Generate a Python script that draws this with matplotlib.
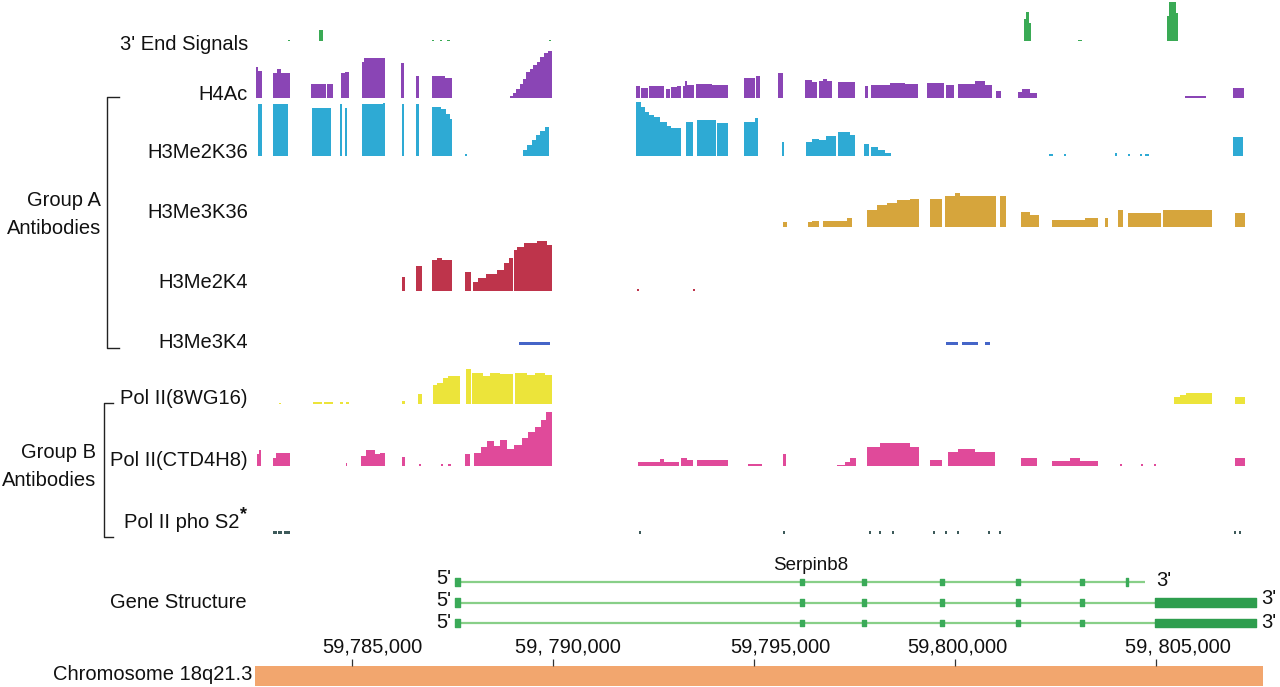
import matplotlib
matplotlib.use("Agg")
import matplotlib.pyplot as plt
from matplotlib.lines import Line2D
from matplotlib.transforms import ScaledTranslation

plt.rcParams['font.family'] = ['Liberation Sans', 'DejaVu Sans']

# ---------------- data (positions in kb on chr18, values = signal height) -------------
END3 = [
    (59784.19, 59784.29, 11),
    (59801.71, 59801.76, 22), (59801.76, 59801.83, 29), (59801.83, 59801.88, 18),
    (59805.26, 59805.31, 25), (59805.31, 59805.48, 39), (59805.48, 59805.54, 28),
    (59783.42, 59783.47, 1.5), (59787.00, 59787.05, 1.5), (59787.20, 59787.25, 1.5),
    (59787.37, 59787.44, 1.5), (59789.91, 59789.96, 1.5), (59803.05, 59803.15, 1.5),
]

H4AC = [
    (59782.62, 59782.67, 31), (59782.67, 59782.77, 27),
    (59783.05, 59783.15, 25), (59783.15, 59783.25, 29), (59783.25, 59783.47, 25),
    (59783.99, 59784.36, 14), (59784.39, 59784.54, 14),
    (59784.74, 59784.84, 25), (59784.84, 59784.94, 26),
    (59785.26, 59785.31, 36), (59785.31, 59785.83, 40),
    (59786.23, 59786.30, 35),
    (59786.60, 59786.68, 22),
    (59787.00, 59787.32, 22), (59787.32, 59787.49, 20),
    (59788.94, 59789.01, 2), (59789.01, 59789.09, 5), (59789.09, 59789.19, 9),
    (59789.19, 59789.26, 14), (59789.26, 59789.33, 19), (59789.33, 59789.43, 26),
    (59789.43, 59789.51, 29), (59789.51, 59789.61, 33), (59789.61, 59789.68, 36),
    (59789.68, 59789.78, 41), (59789.78, 59789.88, 45), (59789.88, 59789.98, 47),
    (59792.07, 59792.17, 12), (59792.19, 59792.37, 10), (59792.39, 59792.76, 12),
    (59792.81, 59792.91, 9), (59792.94, 59793.08, 11), (59793.08, 59793.19, 12),
    (59793.24, 59793.29, 12), (59793.29, 59793.34, 17), (59793.34, 59793.51, 13),
    (59793.56, 59793.96, 14), (59793.96, 59794.35, 13),
    (59794.75, 59795.02, 20), (59795.04, 59795.15, 22),
    (59795.60, 59795.72, 25),
    (59796.27, 59796.44, 18), (59796.44, 59796.57, 16),
    (59796.62, 59796.71, 17), (59796.71, 59796.82, 19), (59796.82, 59796.94, 17),
    (59797.09, 59797.51, 16),
    (59797.76, 59797.83, 12),
    (59797.91, 59798.38, 13), (59798.38, 59798.75, 15), (59798.75, 59799.08, 14),
    (59799.30, 59799.72, 15),
    (59799.77, 59799.97, 13),
    (59800.07, 59800.49, 14), (59800.49, 59800.74, 17), (59800.74, 59800.91, 13),
    (59801.01, 59801.14, 7),
    (59801.56, 59801.66, 6), (59801.66, 59801.86, 9), (59801.86, 59802.03, 5),
    (59805.71, 59806.23, 2),
    (59806.90, 59807.18, 10),
]

H3ME2K36 = [
    (59782.67, 59782.77, 52),
    (59783.05, 59783.42, 52),
    (59784.01, 59784.49, 48),
    (59784.71, 59784.76, 52),
    (59784.84, 59784.89, 48),
    (59785.26, 59785.78, 52), (59785.78, 59785.83, 53),
    (59786.25, 59786.30, 52),
    (59786.60, 59786.68, 52),
    (59787.00, 59787.22, 49), (59787.22, 59787.35, 47), (59787.35, 59787.44, 42), (59787.44, 59787.49, 37),
    (59787.82, 59787.87, 2),
    (59789.26, 59789.36, 6), (59789.36, 59789.48, 11), (59789.48, 59789.58, 16),
    (59789.58, 59789.68, 21), (59789.68, 59789.81, 25), (59789.81, 59789.91, 29),
    (59792.07, 59792.19, 54), (59792.19, 59792.29, 49), (59792.29, 59792.39, 44),
    (59792.39, 59792.51, 41), (59792.51, 59792.66, 39), (59792.66, 59792.84, 34),
    (59792.84, 59792.93, 30), (59792.93, 59793.19, 28),
    (59793.31, 59793.48, 34),
    (59793.58, 59794.06, 36),
    (59794.08, 59794.35, 33),
    (59794.75, 59795.02, 34), (59795.02, 59795.10, 38),
    (59795.70, 59795.75, 14),
    (59796.29, 59796.44, 14), (59796.44, 59796.62, 17), (59796.62, 59796.79, 16), (59796.79, 59797.04, 20),
    (59797.09, 59797.39, 24), (59797.39, 59797.51, 21),
    (59797.73, 59797.86, 12),
    (59797.91, 59798.08, 9), (59798.08, 59798.26, 6), (59798.26, 59798.40, 3),
    (59802.33, 59802.43, 2), (59802.70, 59802.75, 2), (59803.97, 59804.02, 3),
    (59804.29, 59804.34, 2), (59804.59, 59804.64, 2), (59804.72, 59804.82, 2),
    (59806.90, 59807.16, 19),
]

H3ME3K36 = [
    (59795.72, 59795.82, 5),
    (59796.34, 59796.44, 5), (59796.44, 59796.62, 6),
    (59796.71, 59797.31, 6), (59797.31, 59797.44, 9),
    (59797.81, 59798.06, 17), (59798.06, 59798.31, 22), (59798.31, 59798.55, 24),
    (59798.55, 59798.88, 27), (59798.88, 59799.10, 28),
    (59799.37, 59799.67, 28),
    (59799.75, 59799.99, 31), (59799.99, 59800.12, 34), (59800.12, 59801.01, 31),
    (59801.11, 59801.26, 31),
    (59801.64, 59801.86, 15), (59801.86, 59802.08, 12),
    (59802.41, 59803.22, 7), (59803.22, 59803.55, 9),
    (59803.72, 59803.80, 9),
    (59804.05, 59804.17, 17),
    (59804.29, 59805.11, 14),
    (59805.16, 59806.38, 17),
    (59806.95, 59807.20, 14),
]

H3ME2K4 = [
    (59786.25, 59786.32, 14),
    (59786.60, 59786.75, 25),
    (59787.00, 59787.12, 31), (59787.12, 59787.25, 33), (59787.25, 59787.49, 31),
    (59787.82, 59787.97, 19),
    (59788.02, 59788.14, 9), (59788.14, 59788.34, 13), (59788.34, 59788.61, 17),
    (59788.61, 59788.79, 21), (59788.79, 59788.91, 28), (59788.91, 59789.01, 33),
    (59789.04, 59789.11, 41), (59789.11, 59789.28, 44), (59789.28, 59789.61, 48),
    (59789.61, 59789.86, 50), (59789.86, 59789.98, 46),
    (59792.09, 59792.14, 2), (59793.48, 59793.53, 2),
]

H3ME3K4 = [
    (59789.16, 59789.93, 3),
    (59799.77, 59800.07, 3), (59800.17, 59800.57, 3), (59800.74, 59800.86, 3),
]

POL_8WG16 = [
    (59783.20, 59783.25, 1.5), (59784.04, 59784.27, 2), (59784.31, 59784.54, 2),
    (59784.71, 59784.79, 2), (59784.86, 59784.94, 2),
    (59786.25, 59786.32, 3),
    (59786.65, 59786.75, 10),
    (59787.02, 59787.12, 19), (59787.12, 59787.27, 21), (59787.27, 59787.40, 26), (59787.40, 59787.69, 28),
    (59787.84, 59787.97, 35),
    (59787.99, 59788.27, 31), (59788.27, 59788.44, 28), (59788.44, 59788.69, 31),
    (59788.69, 59789.01, 30), (59789.06, 59789.36, 31), (59789.36, 59789.56, 29),
    (59789.56, 59789.81, 31), (59789.81, 59789.98, 29),
    (59805.44, 59805.59, 7), (59805.59, 59805.74, 9), (59805.74, 59806.38, 11),
    (59806.95, 59807.20, 7),
]

POL_CTD4H8 = [
    (59782.65, 59782.70, 12), (59782.70, 59782.75, 16),
    (59783.05, 59783.12, 8), (59783.12, 59783.47, 13),
    (59784.86, 59784.89, 3),
    (59785.23, 59785.36, 10), (59785.36, 59785.58, 16), (59785.58, 59785.71, 12), (59785.71, 59785.83, 13),
    (59786.25, 59786.32, 9),
    (59786.68, 59786.73, 2), (59787.22, 59787.27, 2), (59787.40, 59787.47, 2),
    (59787.82, 59787.94, 12),
    (59788.04, 59788.22, 13), (59788.22, 59788.37, 19), (59788.37, 59788.54, 25),
    (59788.54, 59788.69, 20), (59788.69, 59788.86, 26), (59788.86, 59789.04, 17),
    (59789.04, 59789.23, 21), (59789.23, 59789.38, 28), (59789.38, 59789.56, 34),
    (59789.56, 59789.71, 39), (59789.71, 59789.83, 46), (59789.83, 59789.98, 54),
    (59792.12, 59792.66, 4), (59792.66, 59792.76, 7), (59792.76, 59793.14, 4),
    (59793.19, 59793.34, 8), (59793.34, 59793.48, 6),
    (59793.58, 59794.35, 6),
    (59794.85, 59795.20, 2),
    (59795.72, 59795.80, 12),
    (59797.06, 59797.26, 1.5), (59797.26, 59797.39, 4), (59797.39, 59797.54, 8),
    (59797.81, 59798.13, 19), (59798.13, 59798.88, 23), (59798.88, 59799.10, 19),
    (59799.37, 59799.67, 6),
    (59799.82, 59800.07, 14), (59800.07, 59800.49, 17), (59800.49, 59800.99, 14),
    (59801.64, 59802.03, 8),
    (59802.41, 59802.85, 5), (59802.85, 59803.10, 8), (59803.10, 59803.55, 5),
    (59804.10, 59804.14, 2), (59804.62, 59804.66, 2), (59804.94, 59804.98, 2),
    (59806.95, 59807.20, 8),
]

POL_PHOS2 = [
    (59783.05, 59783.15, 3), (59783.18, 59783.28, 3), (59783.31, 59783.47, 3),
    (59792.14, 59792.19, 3), (59795.72, 59795.77, 3),
    (59797.86, 59797.92, 3), (59798.10, 59798.16, 3), (59798.42, 59798.48, 3),
    (59799.44, 59799.50, 3), (59799.74, 59799.80, 3), (59800.04, 59800.10, 3),
    (59800.81, 59800.87, 3), (59801.08, 59801.14, 3),
    (59806.93, 59806.98, 3), (59807.06, 59807.11, 3),
]

TRACK_NAMES = ["3' End Signals", "H4Ac", "H3Me2K36", "H3Me3K36", "H3Me2K4",
               "H3Me3K4", "Pol II(8WG16)", "Pol II(CTD4H8)", "Pol II pho S2"]

# gene structure (kb)
GENE_NAME = "Serpinb8"
TX_START = [59787.57, 59787.57, 59787.57]
TX_END = [59804.72, 59807.47, 59807.47]
FIRST_EXON = (59787.57, 59787.69)
INNER_EXONS = [59796.19, 59797.73, 59799.67, 59801.56, 59803.15]
TX1_LAST_EXON = 59804.27
LAST_EXON = (59804.96, 59807.47)

CHROM_NAME = "Chromosome 18q21.3"
CHROM_SPAN = (59782.58, 59807.65)
TICK_POS = [59785, 59790, 59795, 59800, 59805]
TICK_LABELS = ["59,785,000", "59, 790,000", "59,795,000", "59,800,000", "59, 805,000"]

# ---------------- layout ----------------
W, H = 1280, 687
fig = plt.figure(figsize=(W / 100, H / 100), dpi=100)
fig.patch.set_facecolor('white')
XLIM = (59782.60, 59807.70)
X0, X1 = 255, 1265
LABEL_SHIFT_PX = [21, 15, 26, 2, 22]   # horizontal offsets of tick labels (layout)


def px_ax(x0, y0, x1, y1):
    ax = fig.add_axes([x0 / W, 1 - y1 / H, (x1 - x0) / W, (y1 - y0) / H])
    ax.set_facecolor('none')
    return ax


def ftext(x, y, s, **kw):
    kw.setdefault('fontsize', 14.5)
    kw.setdefault('color', '#111111')
    return fig.text(x / W, 1 - y / H, s, **kw)


tracks = [
    (END3, 41, '#3AAA55'),
    (H4AC, 98, '#8A45B5'),
    (H3ME2K36, 156, '#2EAAD4'),
    (H3ME3K36, 227, '#D6A53C'),
    (H3ME2K4, 291, '#BE344B'),
    (H3ME3K4, 345, '#4565C8'),
    (POL_8WG16, 404, '#ECE43A'),
    (POL_CTD4H8, 466, '#E04A9A'),
    (POL_PHOS2, 534, '#3D5A5A'),
]
label_y = [45, 95, 152, 213, 283, 343, 398, 460, 522]

for (data, base, col) in tracks:
    ax = px_ax(X0, base - 60, X1, base)
    ax.set_xlim(XLIM)
    ax.set_ylim(0, 60)
    ax.axis('off')
    starts = [d[0] for d in data]
    widths = [d[1] - d[0] for d in data]
    vals = [d[2] for d in data]
    ax.bar(starts, vals, width=widths, align='edge', color=col, linewidth=0)

for name, y in zip(TRACK_NAMES, label_y):
    if name == "Pol II pho S2":
        ftext(239, y, name, ha='right', va='center')
        ftext(240, y - 7, "*", ha='left', va='center', fontsize=13, fontweight='bold')
    else:
        ftext(248, y, name, ha='right', va='center')

# brackets
def fline(xs, ys, **kw):
    fig.add_artist(Line2D([x / W for x in xs], [1 - y / H for y in ys],
                          transform=fig.transFigure, color='#222222', lw=1.0, **kw))

fline([119, 107, 107, 119], [97, 97, 348, 348])
fline([113, 104, 104, 113], [403, 403, 537, 537])
ftext(101, 200, "Group A", ha='right', va='center')
ftext(101, 229, "Antibodies", ha='right', va='center')
ftext(96, 452, "Group B", ha='right', va='center')
ftext(96, 481, "Antibodies", ha='right', va='center')

# gene structure
gax = px_ax(X0, 571.75, X1, 633.25)
gax.set_xlim(XLIM)
gax.set_ylim(3.5, 0.5)
gax.axis('off')
exon_col = '#3AAA58'
line_col = '#88CF88'
ew = 0.11
for i, (s, e) in enumerate(zip(TX_START, TX_END)):
    row = i + 1
    gax.hlines(row, s, e, color=line_col, lw=1.6, zorder=1)
    gax.broken_barh([(FIRST_EXON[0], FIRST_EXON[1] - FIRST_EXON[0])], (row - 0.2, 0.4),
                    color=exon_col, zorder=2)
    gax.broken_barh([(c - ew / 2, ew) for c in INNER_EXONS], (row - 0.15, 0.3),
                    color=exon_col, zorder=2)
    if i == 0:
        gax.broken_barh([(TX1_LAST_EXON - 0.02, 0.04)], (row - 0.2, 0.4), color=exon_col, zorder=2)
    else:
        gax.broken_barh([(LAST_EXON[0], LAST_EXON[1] - LAST_EXON[0])], (row - 0.2, 0.4),
                        color='#2E9E4E', zorder=2)

ftext(811, 565, GENE_NAME, ha='center', va='center', fontsize=13.5)
for y in [578, 600, 622]:
    ftext(451, y, "5'", ha='right', va='center', fontsize=14.5)
ftext(1156, 580, "3'", ha='left', va='center', fontsize=14.5)
ftext(1261, 598, "3'", ha='left', va='center', fontsize=14.5)
ftext(1261, 622, "3'", ha='left', va='center', fontsize=14.5)
ftext(247, 602, "Gene Structure", ha='right', va='center')

# chromosome bar + coordinate axis
cax = px_ax(X0, 666, X1, 686)
cax.set_xlim(XLIM)
cax.set_ylim(0, 1)
cax.barh(0.5, CHROM_SPAN[1] - CHROM_SPAN[0], left=CHROM_SPAN[0], height=1.0,
         color='#F2A66E', linewidth=0)
for sp in cax.spines.values():
    sp.set_visible(False)
cax.set_yticks([])
cax.xaxis.tick_top()
cax.set_xticks(TICK_POS)
cax.set_xticklabels(TICK_LABELS, fontsize=14.5, color='#111111')
cax.tick_params(axis='x', direction='out', length=5, width=0.9, color='#333333', pad=2)
for lab, sh in zip(cax.get_xticklabels(), LABEL_SHIFT_PX):
    lab.set_transform(lab.get_transform() + ScaledTranslation(sh / 100, 0, fig.dpi_scale_trans))

ftext(252, 675, CHROM_NAME, ha='right', va='center')

fig.savefig('out.png', dpi=100, facecolor='white')
